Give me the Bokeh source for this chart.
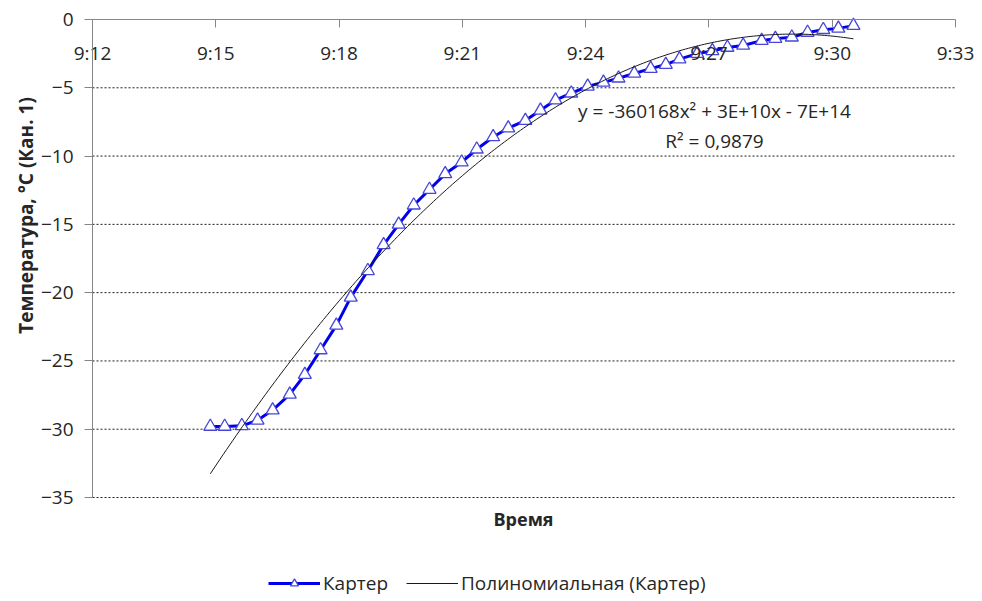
import math
import numpy as np
from bokeh.plotting import figure
from bokeh.models import (Range1d, LinearAxis, FixedTicker, Legend, LegendItem,
                          ColumnDataSource, Label)
from bokeh.embed import file_html
from bokeh.resources import INLINE

# Logged crankcase temperature (channel 1)
times = ["9:14:52", "9:15:13", "9:15:38", "9:16:01", "9:16:23", "9:16:48", "9:17:10",
         "9:17:33", "9:17:56", "9:18:17", "9:18:42", "9:19:05", "9:19:27", "9:19:49",
         "9:20:12", "9:20:35", "9:20:59", "9:21:21", "9:21:45", "9:22:07", "9:22:32",
         "9:22:54", "9:23:16", "9:23:39", "9:24:03", "9:24:26", "9:24:48", "9:25:11",
         "9:25:35", "9:25:57", "9:26:17", "9:26:43", "9:27:05", "9:27:27", "9:27:50",
         "9:28:17", "9:28:37", "9:29:01", "9:29:24", "9:29:47", "9:30:09", "9:30:31"]
temps = [-29.8, -29.8, -29.75, -29.35, -28.6, -27.45, -26.0,
         -24.2, -22.4, -20.35, -18.4, -16.5, -15.0, -13.6,
         -12.45, -11.3, -10.45, -9.5, -8.6, -7.95, -7.4,
         -6.65, -5.9, -5.4, -4.9, -4.6, -4.3, -3.95,
         -3.6, -3.3, -2.9, -2.5, -2.3, -2.05, -1.9,
         -1.55, -1.4, -1.3, -0.95, -0.75, -0.65, -0.45]

x_tick_labels = ["9:12", "9:15", "9:18", "9:21", "9:24", "9:27", "9:30", "9:33"]
y_ticks = [0, -5, -10, -15, -20, -25, -30, -35]

series_name = "Картер"
trend_name = "Полиномиальная (Картер)"
trend_equation = "y = -360168x² + 3E+10x - 7E+14"
trend_r2 = "R² = 0,9879"
x_title = "Время"
y_title = "Температура, °C (Кан. 1)"


def to_minutes(s):
    parts = [int(v) for v in s.split(":")]
    while len(parts) < 3:
        parts.append(0)
    h, m, sec = parts
    return h * 60 + m + sec / 60.0


x = [to_minutes(t) for t in times]
x_tick_vals = [to_minutes(t) for t in x_tick_labels]
x_lo, x_hi = x_tick_vals[0], x_tick_vals[-1]
y_lo, y_hi = min(y_ticks), max(y_ticks)

# second-order polynomial trend through the measurements
coef = np.polyfit(x, temps, 2)
trend_x = np.linspace(x[0], x[-1], 200)
trend_y = np.polyval(coef, trend_x)

# page geometry: the plotting area occupies this box of the 982x601 canvas
W, H = 982, 601
BOX_L, BOX_R, BOX_T, BOX_B = 92, 955, 19, 497
ppx = (BOX_R - BOX_L) / (x_hi - x_lo)
ppy = (BOX_B - BOX_T) / (y_hi - y_lo)
x_range = Range1d(x_lo - BOX_L / ppx, x_hi + (W - BOX_R) / ppx)
y_range = Range1d(y_lo - (H - BOX_B) / ppy, y_hi + BOX_T / ppy)

FONT = "Open Sans"
TXT = "#262626"
AXIS = "#868686"

p = figure(width=W, height=H, output_backend="svg", toolbar_location=None,
           x_range=x_range, y_range=y_range,
           x_axis_location=None, y_axis_location=None,
           min_border=0, min_border_left=0, min_border_right=0,
           min_border_top=0, min_border_bottom=0, outline_line_color=None,
           background_fill_color="white", border_fill_color="white")
p.grid.visible = False

# dotted horizontal gridlines across the plotting area (none on the zero line)
grid_y = [t for t in y_ticks if t != 0]
p.segment(x0=[x_lo] * len(grid_y), x1=[x_hi] * len(grid_y), y0=grid_y, y1=grid_y,
          line_color="#1e1e1e", line_width=1, line_dash="2 2")

# value axis on the left edge of the plotting area
yax = LinearAxis(ticker=FixedTicker(ticks=y_ticks), fixed_location=x_lo,
                 bounds=(y_lo, y_hi))
yax.axis_line_color = AXIS
yax.major_tick_line_color = AXIS
yax.major_tick_out = 8
yax.major_tick_in = 0
yax.minor_tick_out = 0
yax.minor_tick_in = 0
yax.major_label_standoff = 11
yax.major_label_text_font = FONT
yax.major_label_text_font_size = "19px"
yax.major_label_text_color = TXT
p.add_layout(yax, "left")

# time axis crossing at the zero line, labels hanging below it
tax = LinearAxis(ticker=FixedTicker(ticks=x_tick_vals), fixed_location=y_hi,
                 bounds=(x_lo, x_hi),
                 major_label_overrides={v: l for v, l in zip(x_tick_vals, x_tick_labels)})
tax.axis_line_color = AXIS
tax.major_tick_line_color = AXIS
tax.major_tick_out = 8
tax.major_tick_in = 0
tax.minor_tick_in = 0
tax.minor_tick_out = 0
tax.major_label_standoff = 12
tax.major_label_text_font = FONT
tax.major_label_text_font_size = "19px"
tax.major_label_text_color = TXT
p.add_layout(tax, "below")

# axis titles
p.add_layout(Label(x=25, y=H - 215, x_units="screen", y_units="screen",
                   text=y_title, angle=math.pi / 2, text_align="center",
                   text_baseline="middle", text_font=FONT, text_font_size="19px",
                   text_font_style="bold", text_color=TXT))
p.add_layout(Label(x=523, y=H - 518, x_units="screen", y_units="screen",
                   text=x_title, text_align="center", text_baseline="middle",
                   text_font=FONT, text_font_size="18px", text_font_style="bold",
                   text_color=TXT))

src = ColumnDataSource(dict(x=x, y=temps))
r_line = p.line("x", "y", source=src, line_color="#0000EE", line_width=3)
r_pts = p.scatter("x", "y", source=src, marker="triangle", size=13,
                  fill_color="white", line_color="#4646D8", line_width=1.3)
r_trend = p.line(trend_x, trend_y, line_color="#1a1a1a", line_width=1)

# trendline equation
p.add_layout(Label(x=714, y=H - 110, x_units="screen", y_units="screen",
                   text=trend_equation, text_align="center", text_baseline="middle",
                   text_font=FONT, text_font_size="19px", text_color=TXT))
p.add_layout(Label(x=714, y=H - 140, x_units="screen", y_units="screen",
                   text=trend_r2, text_align="center", text_baseline="middle",
                   text_font=FONT, text_font_size="19px", text_color=TXT))

legend = Legend(items=[LegendItem(label=series_name, renderers=[r_line, r_pts]),
                       LegendItem(label=trend_name, renderers=[r_trend])],
                orientation="horizontal", location=(268, 5),
                border_line_color=None, background_fill_alpha=0,
                label_text_font=FONT, label_text_font_size="19px",
                label_text_color=TXT, glyph_width=52, glyph_height=20,
                label_standoff=3, spacing=18, padding=4, margin=0)
p.add_layout(legend)

open("out.html", "w").write(file_html(p, INLINE))
